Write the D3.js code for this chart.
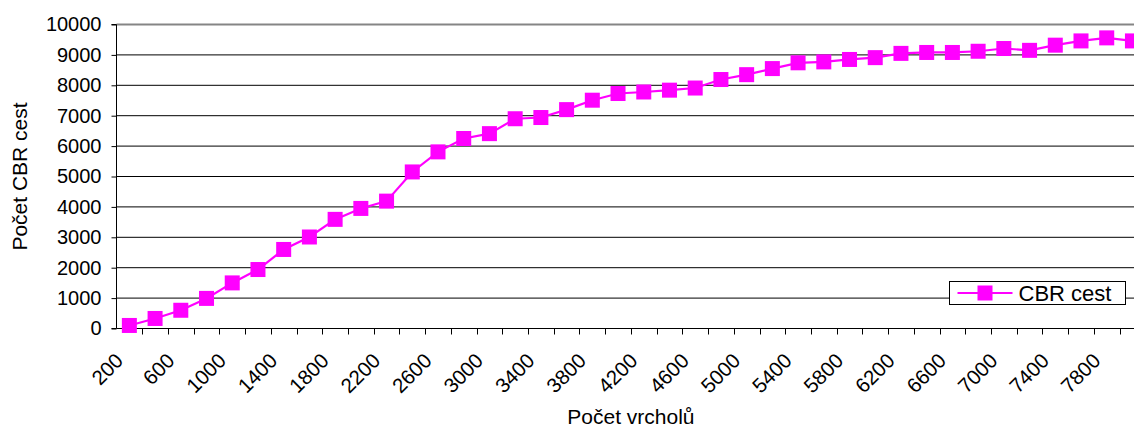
<!DOCTYPE html>
<html>
<head>
<meta charset="utf-8">
<script src="https://cdn.jsdelivr.net/npm/d3@7"></script>
<style>
	body { margin: 0; background: #fff; }
	svg { display: block; font-family: "Liberation Sans", Arial, sans-serif; }
</style>
</head>
<body>
<div id="chart"></div>
<script>
// categories on the x axis (number of vertices)
var categories = [200, 400, 600, 800, 1000, 1200, 1400, 1600, 1800, 2000,
	2200, 2400, 2600, 2800, 3000, 3200, 3400, 3600, 3800, 4000,
	4200, 4400, 4600, 4800, 5000, 5200, 5400, 5600, 5800, 6000,
	6200, 6400, 6600, 6800, 7000, 7200, 7400, 7600, 7800, 8000];

// number of CBR paths
var cbrValues = [100, 330, 600, 990, 1500, 1940, 2600, 3010, 3590, 3950,
	4190, 5150, 5810, 6250, 6410, 6900, 6940, 7200, 7510, 7730,
	7780, 7840, 7910, 8190, 8350, 8550, 8740, 8770, 8850, 8910,
	9050, 9080, 9080, 9120, 9210, 9150, 9320, 9460, 9560, 9460];

// only every second category gets a label
var xTickLabels = [200, 600, 1000, 1400, 1800, 2200, 2600, 3000, 3400, 3800,
	4200, 4600, 5000, 5400, 5800, 6200, 6600, 7000, 7400, 7800];

var yTicks = [0, 1000, 2000, 3000, 4000, 5000, 6000, 7000, 8000, 9000, 10000];

var seriesName = "CBR cest";
var xTitle = "Počet vrcholů";
var yTitle = "Počet CBR cest";

var W = 1134, H = 428;
var pLeft = 116.5, pRight = 1145.3, pTop = 24.5, pBottom = 328.5;
var color = "#ff00ff";

var svg = d3.select("#chart").append("svg")
	.attr("width", W)
	.attr("height", H);

var xS = d3.scaleBand()
	.domain(categories)
	.range([pLeft, pRight]);

var yS = d3.scaleLinear()
	.domain([0, 10000])
	.range([pBottom, pTop]);

// gridlines
svg.append("g")
	.selectAll("line")
	.data(yTicks.slice(1, -1))
	.enter().append("line")
		.attr("x1", pLeft).attr("x2", pRight)
		.attr("y1", function(d) { return yS(d); })
		.attr("y2", function(d) { return yS(d); })
		.attr("stroke", "#000")
		.attr("stroke-width", 1);

// top border of plot area
svg.append("line")
	.attr("x1", pLeft).attr("x2", pRight)
	.attr("y1", pTop).attr("y2", pTop)
	.attr("stroke", "#858585")
	.attr("stroke-width", 2);

// y axis
var yAxis = d3.axisLeft(yS)
	.tickValues(yTicks)
	.tickSize(5)
	.tickPadding(10)
	.tickFormat(d3.format("d"));

var gy = svg.append("g")
	.attr("transform", "translate(" + pLeft + ",0)")
	.call(yAxis);
gy.select(".domain").attr("stroke", "#000").attr("d", "M-5," + pTop + "H0V" + pBottom + "H-5");
gy.selectAll(".tick line").attr("stroke", "#000");
gy.selectAll(".tick text")
	.attr("fill", "#000")
	.style("font-size", "20px")
	.style("font-family", "\"Liberation Sans\", Arial, sans-serif");

// x axis line and ticks at category boundaries
svg.append("line")
	.attr("x1", pLeft).attr("x2", pRight)
	.attr("y1", pBottom).attr("y2", pBottom)
	.attr("stroke", "#000");

svg.append("g")
	.selectAll("line")
	.data(categories)
	.enter().append("line")
		.attr("x1", function(d) { return Math.round(xS(d) + xS.bandwidth()) + 0.5; })
		.attr("x2", function(d) { return Math.round(xS(d) + xS.bandwidth()) + 0.5; })
		.attr("y1", pBottom)
		.attr("y2", pBottom + 6)
		.attr("stroke", "#000");

// x tick labels, rotated
svg.append("g")
	.selectAll("text")
	.data(xTickLabels)
	.enter().append("text")
		.attr("transform", function(d) {
			var cx = xS(d) + xS.bandwidth() / 2;
			return "translate(" + (cx - 5) + "," + 362 + ") rotate(-45)";
		})
		.attr("text-anchor", "end")
		.style("font-size", "20.5px")
		.text(function(d) { return d; });

// series line
var line = d3.line()
	.x(function(d, i) { return xS(categories[i]) + xS.bandwidth() / 2; })
	.y(function(d) { return yS(d); });

svg.append("path")
	.datum(cbrValues)
	.attr("fill", "none")
	.attr("stroke", color)
	.attr("stroke-width", 2.2)
	.attr("d", line);

var ms = 15;
svg.append("g")
	.selectAll("rect")
	.data(cbrValues)
	.enter().append("rect")
		.attr("x", function(d, i) { return xS(categories[i]) + xS.bandwidth() / 2 - ms / 2; })
		.attr("y", function(d) { return yS(d) - ms / 2; })
		.attr("width", ms)
		.attr("height", ms)
		.attr("fill", color);

// axis titles
svg.append("text")
	.attr("x", (pLeft + pRight) / 2)
	.attr("y", 424)
	.attr("text-anchor", "middle")
	.style("font-size", "21px")
	.text(xTitle);

svg.append("text")
	.attr("transform", "translate(27," + ((pTop + pBottom) / 2) + ") rotate(-90)")
	.attr("text-anchor", "middle")
	.style("font-size", "21px")
	.text(yTitle);

// legend
var lg = svg.append("g").attr("transform", "translate(949.5,281.5)");
lg.append("rect")
	.attr("width", 176)
	.attr("height", 23)
	.attr("fill", "#fff")
	.attr("stroke", "#000");
lg.append("line")
	.attr("x1", 8).attr("x2", 63)
	.attr("y1", 11.5).attr("y2", 11.5)
	.attr("stroke", color)
	.attr("stroke-width", 2.2);
lg.append("rect")
	.attr("x", 35.5 - ms / 2)
	.attr("y", 11.5 - ms / 2)
	.attr("width", ms)
	.attr("height", ms)
	.attr("fill", color);
lg.append("text")
	.attr("x", 69)
	.attr("y", 19.5)
	.style("font-size", "22px")
	.text(seriesName);
</script>
</body>
</html>
